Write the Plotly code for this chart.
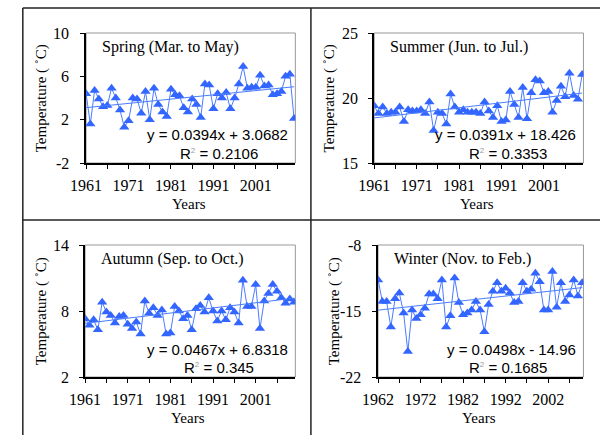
import plotly.graph_objects as go

# ---------------- data ----------------
spring_years = list(range(1961, 2011))
spring_temp = [4.4, 1.6, 4.7, 3.9, 3.2, 3.3, 4.9, 4.0, 2.9, 1.3,
               1.9, 4.0, 3.9, 2.6, 4.6, 2.0, 4.9, 3.4, 2.7, 2.3,
               4.8, 4.3, 4.2, 3.1, 2.7, 3.9, 3.4, 2.2, 5.3, 5.2,
               3.0, 4.4, 4.0, 4.5, 3.0, 4.0, 5.3, 6.9, 4.9, 5.0,
               5.0, 6.1, 5.1, 5.2, 4.3, 4.4, 4.6, 6.0, 6.2, 2.1]

summer_years = list(range(1961, 2011))
summer_temp = [19.4, 18.8, 19.3, 18.8, 18.9, 18.9, 19.3, 18.2, 19.1, 19.0,
               19.0, 19.1, 18.8, 19.7, 17.5, 18.9, 18.8, 18.0, 20.3, 19.3,
               18.9, 19.1, 18.9, 18.9, 18.9, 18.8, 19.7, 19.0, 18.5, 19.4,
               18.2, 18.3, 20.5, 19.5, 18.5, 20.8, 18.4, 20.4, 21.4, 21.3,
               20.4, 20.5, 18.9, 19.8, 20.9, 20.1, 21.9, 20.2, 19.9, 21.8]

autumn_years = list(range(1961, 2011))
autumn_temp = [7.3, 6.7, 7.2, 6.3, 8.8, 7.9, 7.6, 6.9, 7.5, 7.6,
               6.8, 6.4, 7.0, 5.9, 8.9, 7.8, 8.3, 7.6, 8.1, 5.9,
               6.0, 8.4, 8.0, 7.3, 7.6, 6.3, 8.2, 8.5, 7.9, 9.2,
               8.0, 7.1, 8.0, 7.2, 8.3, 7.9, 6.9, 10.8, 8.4, 8.4,
               10.4, 6.4, 8.9, 9.6, 10.4, 9.8, 9.2, 8.7, 9.1, 8.8]

winter_years = list(range(1962, 2011))
winter_temp = [-11.7, -14.0, -14.0, -16.7, -13.7, -13.1, -15.2, -19.3, -14.9, -15.8,
               -15.4, -14.7, -13.2, -13.2, -13.7, -11.7, -16.7, -15.5, -11.5, -14.1,
               -15.4, -15.2, -14.9, -14.0, -14.9, -17.2, -14.3, -12.9, -12.0, -12.9,
               -12.6, -13.1, -14.1, -14.0, -12.0, -12.9, -12.7, -11.0, -11.9, -14.9,
               -14.9, -10.8, -14.6, -12.0, -14.0, -13.3, -11.7, -13.4, -12.0]

titles = ["Spring (Mar. to May)", "Summer (Jun. to Jul.)",
          "Autumn (Sep. to Oct.)", "Winter (Nov. to Feb.)"]
slopes = [0.0394, 0.0391, 0.0467, 0.0498]
intercepts = [3.0682, 18.426, 6.8318, -14.96]
eq_texts = ["y = 0.0394x + 3.0682", "y = 0.0391x + 18.426",
            "y = 0.0467x + 6.8318", "y = 0.0498x - 14.96"]
r2_texts = ["0.2106", "0.3353", "0.345", "0.1685"]
y_ticks = [[10, 6, 2, -2], [25, 20, 15], [14, 8, 2], [-8, -15, -22]]
x_label_years = [[1961, 1971, 1981, 1991, 2001], [1961, 1971, 1981, 1991, 2001],
                 [1961, 1971, 1981, 1991, 2001], [1962, 1972, 1982, 1992, 2002]]

series = [(spring_years, spring_temp), (summer_years, summer_temp),
          (autumn_years, autumn_temp), (winter_years, winter_temp)]

# ---------------- layout geometry (pixels) ----------------
W, H = 600, 435
# plot areas: x0, x1, ytop, ybottom
boxes = [(72, 287, 33, 163), (368, 583, 33, 163),
         (71, 287, 245, 377), (372, 583, 245, 377)]

def px(x):
    return x / W

def py(y):
    return 1 - y / H

BLUE = "#3366FF"
LINE_BLUE = "#4a7cff"
SERIF = "Liberation Serif"
SANS = "Liberation Sans"

fig = go.Figure()
layout = dict(width=W, height=H, margin=dict(l=0, r=0, t=0, b=0),
              paper_bgcolor="white", plot_bgcolor="white", showlegend=False)
annotations = []
shapes = []

for i, ((yrs, vals), box) in enumerate(zip(series, boxes)):
    n = i + 1
    xa = "x" if n == 1 else f"x{n}"
    ya = "y" if n == 1 else f"y{n}"
    xk = "xaxis" if n == 1 else f"xaxis{n}"
    yk = "yaxis" if n == 1 else f"yaxis{n}"
    x0, x1, yt, yb = box

    fig.add_trace(go.Scatter(x=yrs, y=vals, mode="lines+markers", xaxis=xa, yaxis=ya,
                             line=dict(color=LINE_BLUE, width=1),
                             marker=dict(symbol="triangle-up", size=9, color=BLUE)))
    idx = list(range(1, len(yrs) + 1))
    trend = [slopes[i] * k + intercepts[i] for k in idx]
    fig.add_trace(go.Scatter(x=yrs, y=trend, mode="lines", xaxis=xa, yaxis=ya,
                             line=dict(color=LINE_BLUE, width=1)))

    minor_vals = list(range(yrs[0], yrs[-1] + 1, 5))
    layout[xk] = dict(domain=[px(x0), px(x1)], anchor=ya,
                      range=[yrs[0], yrs[-1] + 0.3],
                      tickvals=x_label_years[i],
                      ticktext=[str(v) for v in x_label_years[i]],
                      ticks="outside", ticklen=4, tickcolor="black",
                      minor=dict(tickvals=minor_vals, ticks="outside", ticklen=4,
                                 tickcolor="black", showgrid=False),
                      showline=True, linecolor="black", linewidth=1.5,
                      showgrid=False, zeroline=False, ticklabelstandoff=3,
                      tickfont=dict(family=SERIF, size=16, color="black"))
    yt_vals = y_ticks[i]
    layout[yk] = dict(domain=[py(yb), py(yt)], anchor=xa,
                      range=[min(yt_vals), max(yt_vals)],
                      tickvals=yt_vals, showticklabels=False,
                      ticks="outside", ticklen=4, tickcolor="black",
                      showline=True, linecolor="black", linewidth=1.5,
                      showgrid=False, zeroline=False)
    # y tick labels placed through the axis scale (hyphen minus as in the original)
    for v in yt_vals:
        annotations.append(dict(text=str(v), xref="paper", yref=ya,
                                x=px(x0 - 15), y=v, xanchor="right", yanchor="middle",
                                showarrow=False,
                                font=dict(family=SERIF, size=16, color="black")))

    # gray plot-area frame
    shapes.append(dict(type="rect", xref="paper", yref="paper",
                       x0=px(x0), x1=px(x1), y0=py(yb), y1=py(yt),
                       line=dict(color="#999999", width=1), layer="below"))

    # panel title
    annotations.append(dict(text=titles[i], xref="paper", yref="paper",
                            x=px(x0 + 14), y=py(yt + 14), xanchor="left", yanchor="middle",
                            showarrow=False, font=dict(family=SERIF, size=16, color="black")))
    # equations
    annotations.append(dict(text=eq_texts[i], xref="paper", yref="paper",
                            x=px(x1 - 6), y=py(yb - 28), xanchor="right", yanchor="middle",
                            showarrow=False, font=dict(family=SANS, size=15, color="black")))
    annotations.append(dict(text="R<sup><span style='font-size:8px;color:#999999'>2</span></sup> = " + r2_texts[i],
                            xref="paper", yref="paper",
                            x=px(x1 - 6 - 72), y=py(yb - 10), xanchor="center", yanchor="middle",
                            showarrow=False, font=dict(family=SANS, size=15, color="black")))
    # axis titles
    annotations.append(dict(text="Temperature ( ˚C)", xref="paper", yref="paper",
                            x=px(x0 - 45), y=py((yt + yb) / 2), textangle=-90,
                            xanchor="center", yanchor="middle", showarrow=False,
                            font=dict(family=SERIF, size=15, color="black")))
    annotations.append(dict(text="Years", xref="paper", yref="paper",
                            x=px((x0 + x1) / 2 - 2), y=py(yb + 41), xanchor="center",
                            yanchor="middle", showarrow=False,
                            font=dict(family=SERIF, size=15, color="black")))

# outer frame lines
frame_color = "#222222"
for (a, b, c, d) in [(7, 8, 600, 8), (7, 220, 600, 220), (7, 8, 7, 435), (303, 8, 303, 435)]:
    shapes.append(dict(type="line", xref="paper", yref="paper",
                       x0=px(a), y0=py(b), x1=px(c), y1=py(d),
                       line=dict(color=frame_color, width=1.5)))

layout["annotations"] = annotations
layout["shapes"] = shapes
fig.update_layout(**layout)
fig.write_html("out.html")
